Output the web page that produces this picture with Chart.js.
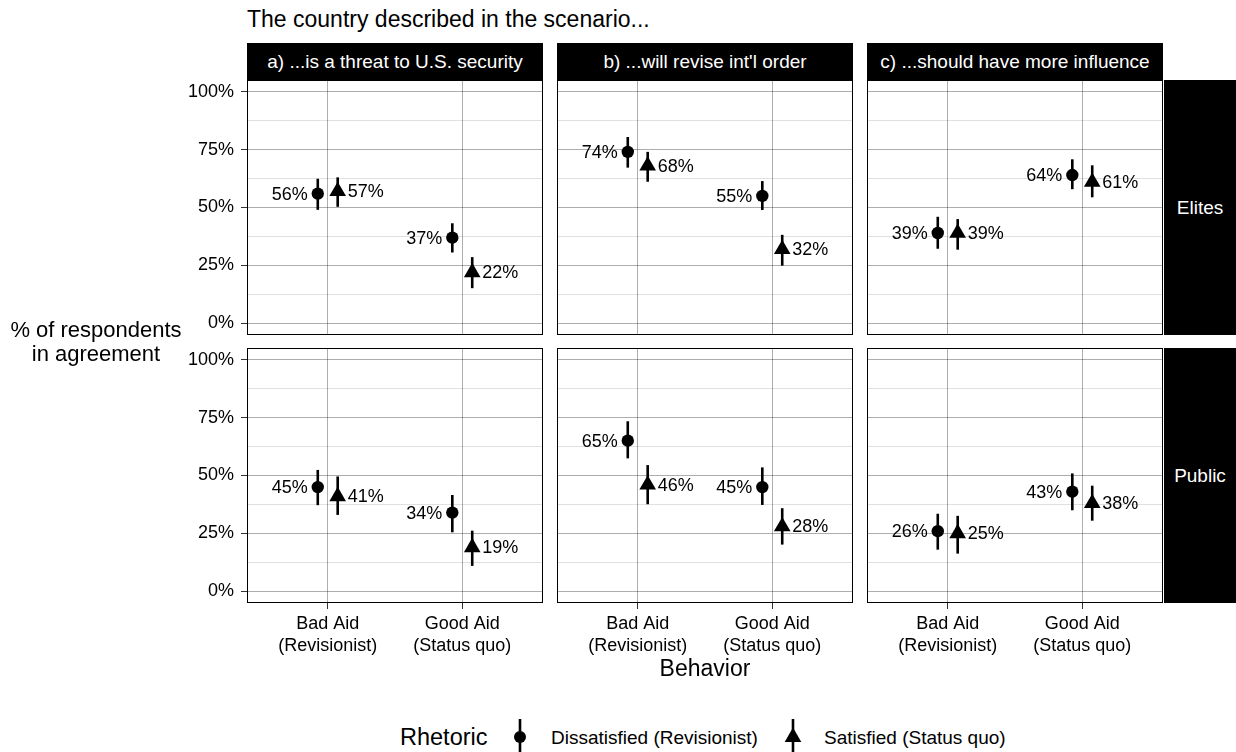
<!DOCTYPE html>
<html>
<head>
<meta charset="utf-8">
<script src="https://cdn.jsdelivr.net/npm/chart.js@4/dist/chart.umd.min.js"></script>
<style>
  html, body { margin: 0; padding: 0; background: #fff; }
  body { width: 1236px; height: 752px; overflow: hidden; font-family: "Liberation Sans", Arial, Helvetica, sans-serif; color: #000; }
  #wrap { position: relative; width: 1236px; height: 752px; }
  .abs { position: absolute; white-space: nowrap; line-height: 1; }
  canvas.panel { position: absolute; }
  .strip { position: absolute; background: #000; color: #fff; display: flex; align-items: center; justify-content: center; font-size: 19px; line-height: 1; white-space: nowrap; }
</style>
</head>
<body>
<div id="wrap"></div>
<script>
// Facet labels, categories and axis ticks
const questions = ["a) ...is a threat to U.S. security", "b) ...will revise int'l order", "c) ...should have more influence"];
const groups = ["Elites", "Public"];
const behaviors = [["Bad Aid", "(Revisionist)"], ["Good Aid", "(Status quo)"]];
const rhetoric = ["Dissatisfied (Revisionist)", "Satisfied (Status quo)"];
const yTickLabels = [0, 25, 50, 75, 100];
const yGridValues = [0, 12.5, 25, 37.5, 50, 62.5, 75, 87.5, 100];
const xTickValues = [1, 2];

// Share agreeing, [question][behavior]; low/high give the interval ends
const elitesDissatisfied     = [[56, 37], [74, 55], [39, 64]];
const elitesDissatisfiedLow  = [[49.0, 30.6], [67.2, 48.9], [32.2, 57.9]];
const elitesDissatisfiedHigh = [[62.4, 43.2], [80.4, 61.4], [46.0, 70.8]];
const elitesSatisfied        = [[57, 22], [68, 32], [39, 61]];
const elitesSatisfiedLow     = [[50.3, 15.2], [61.1, 24.9], [31.8, 54.4]];
const elitesSatisfiedHigh    = [[63.0, 28.6], [74.0, 38.2], [45.0, 68.2]];
const publicDissatisfied     = [[45, 34], [65, 45], [26, 43]];
const publicDissatisfiedLow  = [[37.2, 25.5], [57.4, 37.3], [18.0, 35.0]];
const publicDissatisfiedHigh = [[52.4, 41.6], [73.4, 53.5], [33.5, 50.9]];
const publicSatisfied        = [[41, 19], [46, 28], [25, 38]];
const publicSatisfiedLow     = [[33.0, 11.0], [37.6, 20.2], [16.3, 30.5]];
const publicSatisfiedHigh    = [[49.6, 26.2], [54.5, 35.9], [32.6, 45.6]];

const seriesByGroup = [
  [[elitesDissatisfied, elitesDissatisfiedLow, elitesDissatisfiedHigh], [elitesSatisfied, elitesSatisfiedLow, elitesSatisfiedHigh]],
  [[publicDissatisfied, publicDissatisfiedLow, publicDissatisfiedHigh], [publicSatisfied, publicSatisfiedLow, publicSatisfiedHigh]]
];

// Layout
const FONT = '"Liberation Sans", Arial, Helvetica, sans-serif';
const PANEL_X = [247, 557, 867];
const PANEL_Y = [80, 348];
const PANEL_W = 296, PANEL_H = 255;
const AXIS_W = 100, AXIS_H = 80;
const DODGE = 0.074;
const MAJOR = 'rgba(0,0,0,0.32)';
const MINOR = 'rgba(0,0,0,0.12)';

const wrap = document.getElementById('wrap');
function addText(text, css) {
  const d = document.createElement('div');
  d.className = 'abs';
  d.textContent = text;
  Object.assign(d.style, css);
  wrap.appendChild(d);
  return d;
}

// Keep the plotting area fixed: no extra room for overhanging tick labels
function fixAxis(s, size) {
  if (s.isHorizontal()) s.height = size; else s.width = size;
  s.paddingTop = 0; s.paddingBottom = 0; s.paddingLeft = 0; s.paddingRight = 0;
}

// Vertical interval lines behind the points
const errorBars = {
  id: 'errorBars',
  beforeDatasetsDraw(chart) {
    const ctx = chart.ctx, ys = chart.scales.y;
    ctx.save();
    ctx.strokeStyle = '#000';
    ctx.lineWidth = 2.6;
    ctx.lineCap = 'butt';
    chart.data.datasets.forEach((ds, i) => {
      chart.getDatasetMeta(i).data.forEach((pt, j) => {
        const d = ds.data[j];
        ctx.beginPath();
        ctx.moveTo(pt.x, ys.getPixelForValue(d.low));
        ctx.lineTo(pt.x, ys.getPixelForValue(d.high));
        ctx.stroke();
      });
    });
    ctx.restore();
  }
};

// Percentage text next to each point
const pointLabels = {
  id: 'pointLabels',
  afterDatasetsDraw(chart) {
    const ctx = chart.ctx;
    ctx.save();
    ctx.font = '18px ' + FONT;
    ctx.fillStyle = '#000';
    ctx.textBaseline = 'middle';
    chart.data.datasets.forEach((ds, i) => {
      const side = ds.labelSide;
      ctx.textAlign = side < 0 ? 'right' : 'left';
      chart.getDatasetMeta(i).data.forEach((pt, j) => {
        ctx.fillText(ds.data[j].y + '%', pt.x + side * 10, pt.y + 1);
      });
    });
    ctx.restore();
  }
};

// Panel frame
const panelFrame = {
  id: 'panelFrame',
  afterDraw(chart) {
    const a = chart.chartArea, ctx = chart.ctx;
    ctx.save();
    ctx.strokeStyle = '#000';
    ctx.lineWidth = 1;
    ctx.strokeRect(Math.round(a.left) + 0.5, Math.round(a.top) + 0.5, Math.round(a.right - a.left) - 1, Math.round(a.bottom - a.top) - 1);
    ctx.restore();
  }
};

function buildPanel(row, col) {
  const isLeft = col === 0, isBottom = row === 1;
  const canvas = document.createElement('canvas');
  canvas.className = 'panel';
  const w = PANEL_W + (isLeft ? AXIS_W : 0);
  const h = PANEL_H + (isBottom ? AXIS_H : 0);
  canvas.width = w; canvas.height = h;
  canvas.style.left = (PANEL_X[col] - (isLeft ? AXIS_W : 0)) + 'px';
  canvas.style.top = PANEL_Y[row] + 'px';
  canvas.style.width = w + 'px'; canvas.style.height = h + 'px';
  wrap.appendChild(canvas);

  const datasets = seriesByGroup[row].map((s, k) => {
    const [est, low, high] = s;
    const shift = k === 0 ? -DODGE : DODGE;
    return {
      label: rhetoric[k],
      labelSide: k === 0 ? -1 : 1,
      data: behaviors.map((b, i) => ({ x: xTickValues[i] + shift, y: est[col][i], low: low[col][i], high: high[col][i] })),
      pointStyle: k === 0 ? 'circle' : 'triangle',
      pointRadius: k === 0 ? 6.2 : 9.6,
      backgroundColor: '#000',
      borderColor: '#000',
      borderWidth: 0,
      showLine: false
    };
  });

  new Chart(canvas, {
    type: 'scatter',
    data: { datasets },
    options: {
      responsive: false,
      animation: false,
      devicePixelRatio: 1,
      events: [],
      layout: { padding: 0, autoPadding: false },
      plugins: { legend: { display: false }, tooltip: { enabled: false }, title: { display: false } },
      scales: {
        x: {
          type: 'linear', min: 0.4, max: 2.6,
          afterBuildTicks: s => { s.ticks = xTickValues.map(v => ({ value: v })); },
          afterFit: s => fixAxis(s, isBottom ? AXIS_H : 0),
          border: { display: false },
          grid: { color: MAJOR, lineWidth: 1, drawTicks: isBottom, tickLength: 6, tickColor: '#333', tickWidth: 1 },
          ticks: {
            display: isBottom, autoSkip: false, maxRotation: 0, padding: 5, color: '#000',
            font: { family: FONT, size: 18, lineHeight: 1.17 },
            callback: v => behaviors[v - 1]
          }
        },
        y: {
          type: 'linear', min: -5, max: 105,
          afterBuildTicks: s => { s.ticks = yGridValues.map(v => ({ value: v })); },
          afterFit: s => fixAxis(s, isLeft ? AXIS_W : 0),
          border: { display: false },
          grid: {
            color: c => yTickLabels.includes(c.tick.value) ? MAJOR : MINOR,
            lineWidth: 1,
            drawTicks: isLeft, tickLength: 6, tickWidth: 1,
            tickColor: c => yTickLabels.includes(c.tick.value) ? '#333' : 'rgba(0,0,0,0)'
          },
          ticks: {
            display: isLeft, autoSkip: false, padding: 7, color: '#000',
            font: { family: FONT, size: 18 },
            callback: v => yTickLabels.includes(v) ? v + '%' : ''
          }
        }
      }
    },
    plugins: [errorBars, pointLabels, panelFrame]
  });
}

for (let r = 0; r < 2; r++) for (let c = 0; c < 3; c++) buildPanel(r, c);

// Facet strips
questions.forEach((q, c) => {
  const s = document.createElement('div');
  s.className = 'strip';
  Object.assign(s.style, { left: PANEL_X[c] + 'px', top: '43px', width: PANEL_W + 'px', height: '37px' });
  s.textContent = q;
  wrap.appendChild(s);
});
groups.forEach((g, r) => {
  const s = document.createElement('div');
  s.className = 'strip';
  Object.assign(s.style, { left: (PANEL_X[2] + PANEL_W + 1) + 'px', top: PANEL_Y[r] + 'px', width: (1236 - PANEL_X[2] - PANEL_W - 1) + 'px', height: PANEL_H + 'px' });
  s.textContent = g;
  wrap.appendChild(s);
});

// Titles
addText('The country described in the scenario...', { left: '247px', top: '8px', fontSize: '23px' });
const yTitle = document.createElement('div');
yTitle.className = 'abs';
Object.assign(yTitle.style, { left: '0px', width: '192px', top: '318px', fontSize: '22px', lineHeight: '24px', textAlign: 'center' });
yTitle.innerHTML = '% of respondents<br>in agreement';
wrap.appendChild(yTitle);
addText('Behavior', { left: '605px', width: '200px', textAlign: 'center', top: '657px', fontSize: '23px' });

// Legend
addText('Rhetoric', { left: '400px', top: '726px', fontSize: '23.5px' });
const keyCircle = document.createElementNS('http://www.w3.org/2000/svg', 'svg');
keyCircle.setAttribute('width', '24'); keyCircle.setAttribute('height', '40');
keyCircle.style.position = 'absolute'; keyCircle.style.left = '508px'; keyCircle.style.top = '717px';
keyCircle.innerHTML = '<line x1="12" y1="2" x2="12" y2="37" stroke="#000" stroke-width="2.6"/><circle cx="12" cy="20" r="6" fill="#000"/>';
wrap.appendChild(keyCircle);
addText(rhetoric[0], { left: '551px', top: '728px', fontSize: '19px' });
const keyTri = document.createElementNS('http://www.w3.org/2000/svg', 'svg');
keyTri.setAttribute('width', '24'); keyTri.setAttribute('height', '40');
keyTri.style.position = 'absolute'; keyTri.style.left = '781px'; keyTri.style.top = '717px';
keyTri.innerHTML = '<line x1="12" y1="2" x2="12" y2="37" stroke="#000" stroke-width="2.6"/><polygon points="12,10.5 20.3,25 3.7,25" fill="#000"/>';
wrap.appendChild(keyTri);
addText(rhetoric[1], { left: '824px', top: '728px', fontSize: '19px' });
</script>
</body>
</html>
